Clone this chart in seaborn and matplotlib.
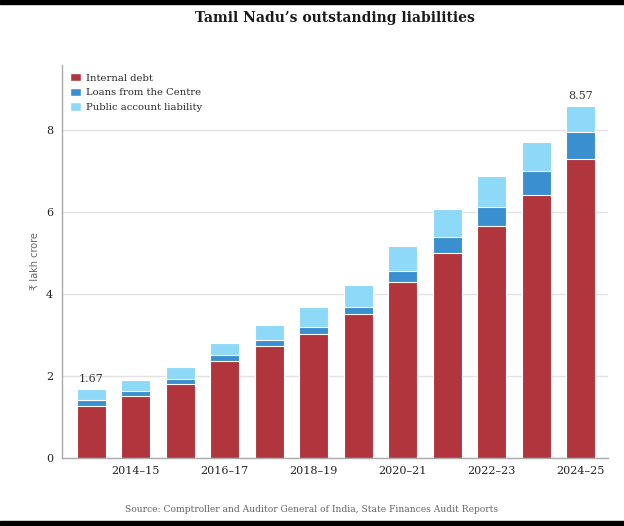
import numpy as np
import pandas as pd
import matplotlib
matplotlib.use("Agg")
import matplotlib.pyplot as plt
from matplotlib.patches import Patch, Rectangle
import seaborn as sns

# ── data (₹ lakh crore) ──────────────────────────────────────────────────────
years = ["2013–14", "2014–15", "2015–16", "2016–17", "2017–18", "2018–19",
         "2019–20", "2020–21", "2021–22", "2022–23", "2023–24", "2024–25"]
internal_debt = [1.27, 1.50, 1.79, 2.37, 2.72, 3.03, 3.51, 4.29, 5.00, 5.65, 6.40, 7.29]
centre_loans = [0.13, 0.13, 0.13, 0.13, 0.16, 0.17, 0.17, 0.26, 0.39, 0.47, 0.60, 0.65]
public_account = [0.27, 0.27, 0.29, 0.31, 0.36, 0.47, 0.53, 0.61, 0.68, 0.76, 0.69, 0.63]
labelled = {0: "1.67", 11: "8.57"}

RED, BLUE, LIGHT = "#B0353D", "#3A8FD0", "#8ED8F8"

df = pd.DataFrame({"year": years, "internal": internal_debt,
                   "loans": centre_loans, "pal": public_account})
df["lvl1"] = df["internal"]
df["lvl2"] = df["internal"] + df["loans"]
df["lvl3"] = df["lvl2"] + df["pal"]

sns.set_theme(style="white")
plt.rcParams["font.family"] = ["DejaVu Serif"]

fig = plt.figure(figsize=(6.24, 5.26), dpi=100)
ax = fig.add_axes([0.0994, 0.1298, 0.8746, 0.7466])

# stacked bars drawn back to front
for col, clr in [("lvl3", LIGHT), ("lvl2", BLUE), ("lvl1", RED)]:
    sns.barplot(data=df, x="year", y=col, color=clr, width=0.65,
                saturation=1, edgecolor="white", linewidth=0.8, ax=ax)

for i, txt in labelled.items():
    ax.text(i, df["lvl3"][i] + 0.12, txt, ha="center", va="bottom",
            fontsize=8, color="#333333")

ax.set_xlim(-0.66, 11.61)
ax.set_ylim(0, 9.58)
ax.set_yticks([0, 2, 4, 6, 8])
ax.set_xticks(range(len(years)))
ax.set_xticklabels([y if i % 2 == 1 else "" for i, y in enumerate(years)])
ax.tick_params(axis="both", labelsize=8, colors="#aaaaaa", labelcolor="#222222",
               length=3, width=1)
ax.tick_params(axis="x", pad=3)
ax.yaxis.grid(True, color="#e2e2e2", linewidth=1)
ax.set_axisbelow(True)
for s in ["top", "right"]:
    ax.spines[s].set_visible(False)
for s in ["left", "bottom"]:
    ax.spines[s].set_color("#aaaaaa")
    ax.spines[s].set_linewidth(1)

ax.set_xlabel("")
ax.set_ylabel("₹ lakh crore", family=["DejaVu Sans"], fontsize=7,
              color="#666666", labelpad=4)

handles = [Patch(facecolor=RED, label="Internal debt"),
           Patch(facecolor=BLUE, label="Loans from the Centre"),
           Patch(facecolor=LIGHT, label="Public account liability")]
ax.legend(handles=handles, loc="upper left", bbox_to_anchor=(0.0, 1.0),
          frameon=False, fontsize=7.2, handlelength=1.1, handleheight=0.9,
          handletextpad=0.5, labelspacing=0.5, borderaxespad=0.4)

fig.text(0.537, 0.965, "Tamil Nadu’s outstanding liabilities", ha="center",
         va="center", fontsize=10, fontweight="bold", color="#1a1a1a")
fig.text(0.5, 0.032, "Source: Comptroller and Auditor General of India, "
         "State Finances Audit Reports", ha="center", va="center",
         fontsize=6.6, color="#666666")

# black frame strips at top and bottom
fig.patches.append(Rectangle((0, 0.992), 1, 0.008, transform=fig.transFigure,
                             color="black", zorder=10))
fig.patches.append(Rectangle((0, 0), 1, 0.009, transform=fig.transFigure,
                             color="black", zorder=10))

fig.savefig("out.png", dpi=100)
